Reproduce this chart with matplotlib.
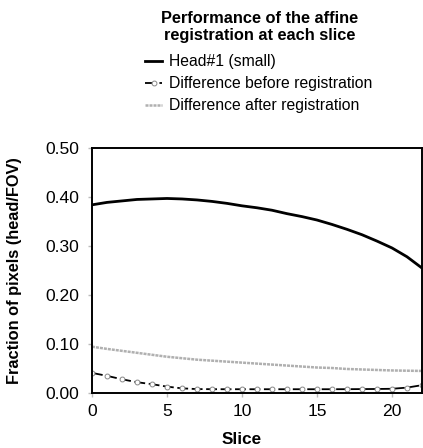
import matplotlib
matplotlib.use("Agg")
import matplotlib.pyplot as plt

plt.rcParams['font.family'] = ['Liberation Sans', 'DejaVu Sans']

slices = list(range(0, 23))
head = [0.384, 0.389, 0.392, 0.395, 0.396, 0.397, 0.396, 0.394, 0.391, 0.387,
        0.382, 0.378, 0.373, 0.366, 0.360, 0.353, 0.344, 0.334, 0.323, 0.310,
        0.296, 0.278, 0.255]
before = [0.041, 0.035, 0.028, 0.022, 0.018, 0.013, 0.0095, 0.008, 0.0078, 0.0077,
          0.0077, 0.0077, 0.0077, 0.0077, 0.0077, 0.0077, 0.0077, 0.0078, 0.008, 0.0082,
          0.0086, 0.011, 0.016]
after = [0.0945, 0.090, 0.086, 0.082, 0.078, 0.074, 0.071, 0.068, 0.066, 0.064,
         0.062, 0.060, 0.058, 0.056, 0.054, 0.052, 0.051, 0.049, 0.048, 0.047,
         0.046, 0.0455, 0.045]
yticks = [0.0, 0.1, 0.2, 0.3, 0.4, 0.5]
xticks = [0, 5, 10, 15, 20]

W, H = 423, 448
fig = plt.figure(figsize=(W / 100, H / 100), dpi=100)
ax = fig.add_axes([92 / W, 1 - 393 / H, 330 / W, 245 / H])

l1, = ax.plot(slices, head, color='black', lw=2.0, label='Head#1 (small)')
l2, = ax.plot(slices, before, color='black', lw=1.3, ls=(0, (6, 2)),
              marker='o', markersize=3.5, markerfacecolor='white',
              markeredgecolor='#888888', markeredgewidth=0.7,
              label='Difference before registration')
l3, = ax.plot(slices, after, color='#b0b0b0', lw=1.8, ls=(0, (1.2, 0.4)),
              label='Difference after registration')

ax.set_xlim(0, 22)
ax.set_ylim(0, 0.5)
ax.set_xticks(xticks)
ax.set_yticks(yticks)
ax.set_yticklabels([f'{v:.2f}' for v in yticks])
ax.tick_params(axis='both', labelsize=12.6, color='#bbbbbb', length=3, width=1)
ax.tick_params(axis='y', pad=6)
ax.tick_params(axis='x', pad=5)
for s in ax.spines.values():
    s.set_linewidth(1.4)
    s.set_color('black')

ax.set_xlabel('Slice', fontsize=12.3, fontweight='bold', va='center')
ax.xaxis.set_label_coords(150 / 330, -46 / 245)
ax.set_ylabel('Fraction of pixels (head/FOV)', fontsize=11.8, fontweight='bold')
ax.yaxis.set_label_coords(-70 / 330, 0.5)

fig.text(260 / W, 1 - 27 / H, 'Performance of the affine\nregistration at each slice',
         ha='center', va='center', fontsize=11.8, fontweight='bold', linespacing=1.12)

fig.legend(handles=[l1, l2, l3], loc='upper left',
           bbox_to_anchor=(145 / W, 1 - 54 / H), frameon=False, fontsize=11.3,
           handlelength=1.1, handletextpad=0.4, labelspacing=0.45,
           borderaxespad=0, borderpad=0)

fig.savefig('out.png', dpi=100)
